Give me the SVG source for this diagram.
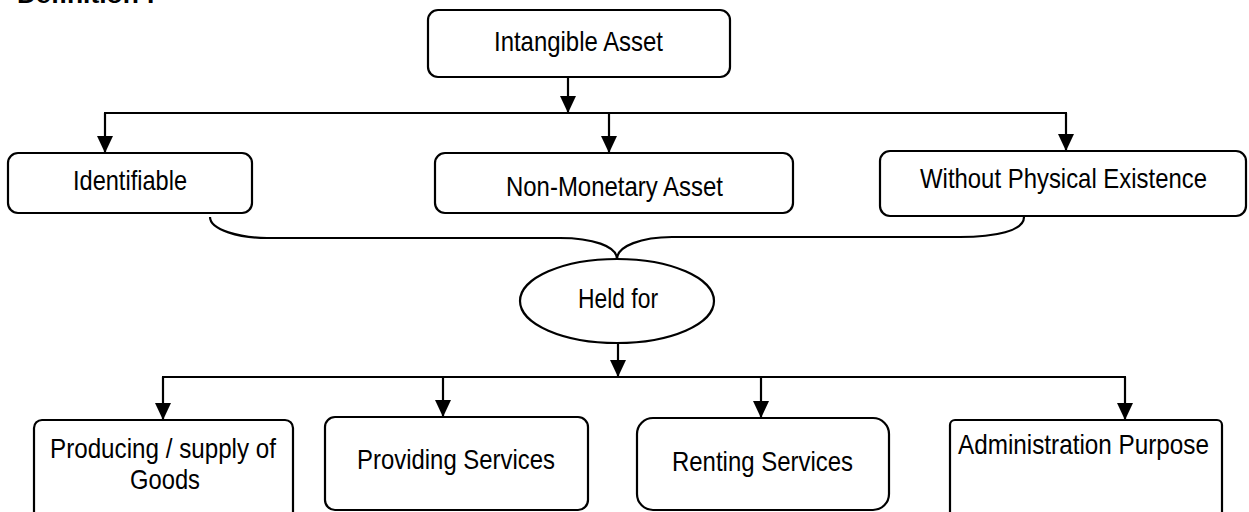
<svg xmlns="http://www.w3.org/2000/svg" width="1249" height="512" viewBox="0 0 1249 512">
<style>
.box{fill:#fff;stroke:#000;stroke-width:2.2}
.ln{fill:none;stroke:#000;stroke-width:2.2}
.t{font-family:"Liberation Sans Narrow","Liberation Sans",Arial,sans-serif;font-size:28px;fill:#000;text-anchor:middle}
.title{font-family:"Liberation Sans",Arial,sans-serif;font-size:24px;font-weight:bold;fill:#000}
</style>
<defs>
<marker id="ah" markerUnits="userSpaceOnUse" markerWidth="17" markerHeight="16" refX="17" refY="8" orient="auto">
<path d="M0,0 L17,8 L0,16 z" fill="#000"/>
</marker>
</defs>
<rect width="1249" height="512" fill="#fff"/>
<text class="title" x="17" y="3" textLength="138" lengthAdjust="spacingAndGlyphs">Definition :</text>

<g id="connectors">
<line class="ln" x1="568" y1="77" x2="568" y2="113" marker-end="url(#ah)"/>
<line class="ln" x1="104" y1="113" x2="1067" y2="113"/>
<line class="ln" x1="105" y1="113" x2="105" y2="153" marker-end="url(#ah)"/>
<line class="ln" x1="609" y1="113" x2="609" y2="153" marker-end="url(#ah)"/>
<line class="ln" x1="1066" y1="113" x2="1066" y2="151" marker-end="url(#ah)"/>
<path class="ln" d="M210,217 C210,230 240,238 267,238 L560,238 C592,238 617,246 617,259 C617,246 642,237 672,237 L960,237 C995,237 1024,231 1024,217"/>
<line class="ln" x1="618" y1="343" x2="618" y2="377" marker-end="url(#ah)"/>
<line class="ln" x1="162" y1="377" x2="1126" y2="377"/>
<line class="ln" x1="163" y1="377" x2="163" y2="420" marker-end="url(#ah)"/>
<line class="ln" x1="443" y1="377" x2="443" y2="417" marker-end="url(#ah)"/>
<line class="ln" x1="761" y1="377" x2="761" y2="418" marker-end="url(#ah)"/>
<line class="ln" x1="1125" y1="377" x2="1125" y2="420" marker-end="url(#ah)"/>
</g>

<g id="intangible">
<rect class="box" x="428" y="10" width="302" height="67" rx="10"/>
<text class="t" x="578.5" y="51" textLength="169" lengthAdjust="spacingAndGlyphs">Intangible Asset</text>
</g>
<g id="identifiable">
<rect class="box" x="8" y="153" width="244" height="60" rx="10"/>
<text class="t" x="130" y="190" textLength="114" lengthAdjust="spacingAndGlyphs">Identifiable</text>
</g>
<g id="nonmonetary">
<rect class="box" x="435" y="153" width="358" height="60" rx="10"/>
<text class="t" x="614.5" y="196" textLength="217" lengthAdjust="spacingAndGlyphs">Non-Monetary Asset</text>
</g>
<g id="withoutphysical">
<rect class="box" x="880" y="151" width="366" height="65" rx="10"/>
<text class="t" x="1063.5" y="188" textLength="287" lengthAdjust="spacingAndGlyphs">Without Physical Existence</text>
</g>
<g id="heldfor">
<ellipse class="box" cx="617" cy="301" rx="97" ry="42"/>
<text class="t" x="618" y="308" textLength="80" lengthAdjust="spacingAndGlyphs">Held for</text>
</g>
<g id="producing">
<rect class="box" x="34" y="420" width="259" height="110" rx="8"/>
<text class="t" x="163" y="458" textLength="226" lengthAdjust="spacingAndGlyphs">Producing / supply of</text>
<text class="t" x="165" y="489" textLength="70" lengthAdjust="spacingAndGlyphs">Goods</text>
</g>
<g id="providing">
<rect class="box" x="325" y="417" width="263" height="93" rx="10"/>
<text class="t" x="456" y="469" textLength="198" lengthAdjust="spacingAndGlyphs">Providing Services</text>
</g>
<g id="renting">
<rect class="box" x="637" y="418" width="252" height="92" rx="16"/>
<text class="t" x="762.5" y="471" textLength="181" lengthAdjust="spacingAndGlyphs">Renting Services</text>
</g>
<g id="administration">
<rect class="box" x="950" y="420" width="272" height="110" rx="5"/>
<text class="t" x="1083.5" y="454" textLength="251" lengthAdjust="spacingAndGlyphs">Administration Purpose</text>
</g>
</svg>
